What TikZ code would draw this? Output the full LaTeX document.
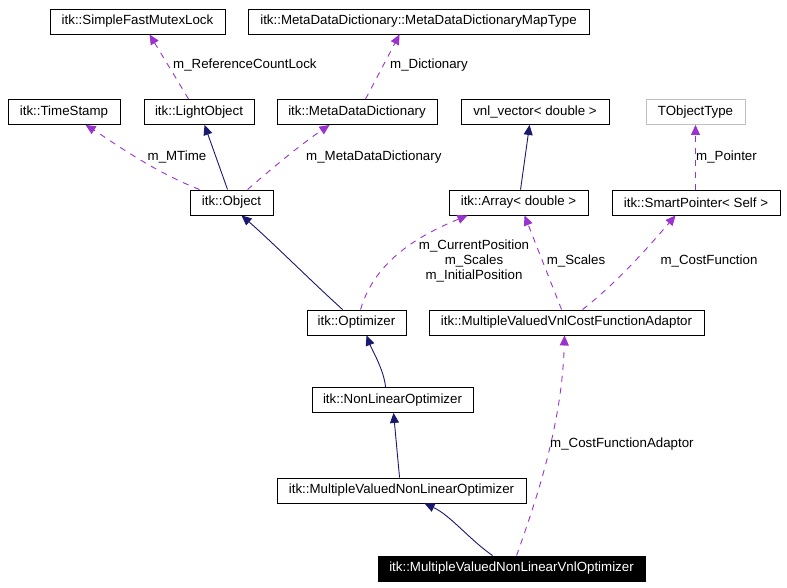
\documentclass[tikz,border=0pt]{standalone}
\usepackage{fontspec}
\setmainfont{Liberation Sans}
\usetikzlibrary{arrows.meta,calc}
\definecolor{inh}{HTML}{191970}
\definecolor{use}{HTML}{9A32CD}
\begin{document}
\begin{tikzpicture}[x=1pt,y=-1pt,
  every node/.style={font=\fontsize{13.3}{16}\selectfont},
  cls/.style={draw=black,line width=0.9pt,minimum height=25pt,inner sep=0pt,anchor=center},
  inhedge/.style={draw=inh,line width=0.9pt,-{Triangle[length=10pt,width=9pt]}},
  useedge/.style={draw=use,line width=0.9pt,dash pattern=on 6pt off 6pt,-{Triangle[length=10pt,width=9pt]}},
  lbl/.style={inner sep=0pt,align=center}]
\useasboundingbox (0,0) rectangle (787,588);
\node[cls,minimum width=175pt] (sfml) at (137.5,21.5) {itk::SimpleFastMutexLock};
\node[cls,minimum width=341pt] (mdmt) at (418.5,21.5) {itk::MetaDataDictionary::MetaDataDictionaryMapType};
\node[cls,minimum width=112pt] (ts) at (64,112) {itk::TimeStamp};
\node[cls,minimum width=110pt] (lo) at (199,112) {itk::LightObject};
\node[cls,minimum width=160pt] (mdd) at (357,112) {itk::MetaDataDictionary};
\node[cls,minimum width=148pt] (vnl) at (535,112) {vnl\_vector< double >};
\node[cls,draw=black!25,minimum width=99pt] (tot) at (695.5,112) {TObjectType};
\node[cls,minimum width=83pt] (obj) at (231.5,202.5) {itk::Object};
\node[cls,minimum width=139pt] (arr) at (518.5,202.5) {itk::Array< double >};
\node[cls,minimum width=168pt] (sp) at (696,202.5) {itk::SmartPointer< Self >};
\node[cls,minimum width=99pt] (opt) at (356.5,322.5) {itk::Optimizer};
\node[cls,minimum width=275pt] (cfa) at (566.5,322.5) {itk::MultipleValuedVnlCostFunctionAdaptor};
\node[cls,minimum width=161pt] (nlo) at (392.5,400) {itk::NonLinearOptimizer};
\node[cls,minimum width=249pt] (mvnlo) at (401.5,490.5) {itk::MultipleValuedNonLinearOptimizer};
\node[cls,fill=black,text=white,minimum width=267pt] (vnlo) at (511.5,568.5) {itk::MultipleValuedNonLinearVnlOptimizer};

% uses
\draw[useedge] ($(lo.north west)+(45,0)$) -- ($(sfml.south west)+(100,0)$);
\node[lbl,anchor=west] (l1) at (173,65) {m\_ReferenceCountLock};
\draw[useedge] ($(mdd.north west)+(89,0)$) -- ($(mdmt.south west)+(152,0)$);
\node[lbl,anchor=west] (l2) at (390,65) {m\_Dictionary};
\draw[useedge] ($(obj.north west)+(10,0)$) .. controls (150,170) and (110,140) .. ($(ts.south west)+(78,0)$);
\node[lbl] (l3) at (177,157) {m\_MTime};
\draw[inhedge] ($(obj.north west)+(38,0)$) -- ($(lo.south west)+(61,0)$);
\draw[useedge] ($(obj.north west)+(58,0)$) .. controls (270,170) and (300,145) .. ($(mdd.south west)+(53,0)$);
\node[lbl,anchor=west] (l4) at (306,157) {m\_MetaDataDictionary};
\draw[inhedge] ($(arr.north west)+(72,0)$) -- ($(vnl.south west)+(69,0)$);
\draw[useedge] (sp.north -| tot.south) -- (tot.south);
\node[lbl,anchor=west] (l5) at (696,157) {m\_Pointer};
\draw[inhedge] ($(opt.north west)+(36,0)$) .. controls (310,280) and (270,240) .. ($(obj.south west)+(52,0)$);
\draw[useedge] ($(opt.north west)+(54,0)$) .. controls (375,260) and (420,235) .. ($(arr.south west)+(19,0)$);
\node[lbl] (l6) at (474,261) {m\_CurrentPosition\\[-1pt]m\_Scales\\[-1pt]m\_InitialPosition};
\draw[useedge] ($(cfa.north west)+(133,0)$) -- ($(arr.south west)+(76,0)$);
\node[lbl] (l7) at (576,261) {m\_Scales};
\draw[useedge] ($(cfa.north west)+(154,0)$) .. controls (620,280) and (650,245) .. ($(sp.south west)+(64,0)$);
\node[lbl] (l8) at (709,261) {m\_CostFunction};
\draw[inhedge] ($(nlo.north west)+(74,0)$) .. controls (384,370) and (372,350) .. ($(opt.south west)+(60,0)$);
\draw[inhedge] ($(mvnlo.north west)+(123,0)$) -- ($(nlo.south west)+(82,0)$);
\draw[inhedge] ($(vnlo.north west)+(115,0)$) .. controls (470,540) and (450,515) .. ($(mvnlo.south west)+(148,0)$);
\draw[useedge] ($(vnlo.north west)+(139,0)$) .. controls (540,490) and (562,420) .. ($(cfa.south west)+(136,0)$);
\node[lbl,anchor=west] (l9) at (550,444) {m\_CostFunctionAdaptor};
\end{tikzpicture}
\end{document}
